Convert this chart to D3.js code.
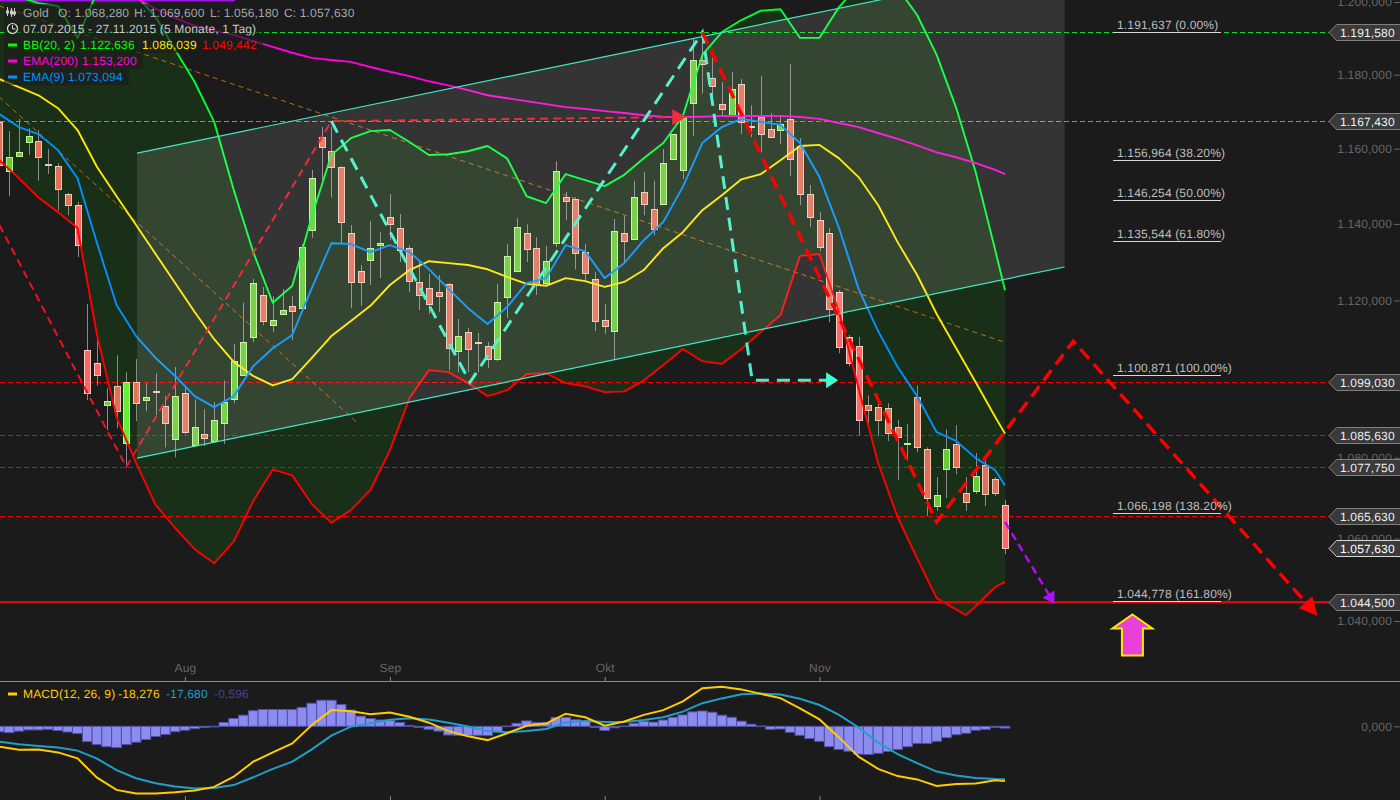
<!DOCTYPE html>
<html><head><meta charset="utf-8">
<style>
html,body{margin:0;padding:0;background:#1b1b1b;overflow:hidden}
svg{display:block}
text{font-family:"Liberation Sans",Arial,sans-serif;font-size:12px;letter-spacing:.15px;text-rendering:geometricPrecision}
</style>
<script src="https://cdn.jsdelivr.net/npm/d3@7/dist/d3.min.js"></script>
</head><body><div id="c"></div>
<script>
// ---------- candles (day index 0 = 07.07.2015, 103 = 27.11.2015), prices in USD
const opens=[1167.2,1154.0,1158.0,1161.8,1162.0,1155.9,1155.3,1147.9,1145.0,1107.2,1103.9,1093.2,1098.0,1083.6,1099.0,1094.5,1096.9,1093.0,1084.7,1096.2,1083.1,1085.9,1084.2,1088.7,1094.7,1100.8,1110.6,1121.4,1113.6,1116.5,1118.6,1118.0,1138.4,1163.1,1159.3,1155.1,1137.6,1127.6,1130.5,1134.4,1141.8,1138.9,1133.6,1124.8,1123.2,1122.2,1124.3,1107.0,1111.9,1109.2,1108.2,1104.9,1120.9,1127.6,1137.6,1133.6,1124.5,1134.9,1147.0,1146.5,1132.6,1125.5,1114.9,1112.1,1137.6,1136.0,1148.5,1143.9,1145.3,1157.2,1154.3,1172.3,1184.0,1179.1,1172.0,1169.0,1177.4,1166.2,1168.5,1165.3,1165.0,1168.0,1160.7,1148.0,1141.0,1137.6,1122.2,1110.6,1108.2,1093.2,1092.7,1092.5,1087.7,1083.5,1095.2,1082.1,1068.0,1077.2,1083.4,1071.2,1071.7,1078.2,1074.7,1068.28];
const highs=[1169.0,1164.7,1168.0,1165.5,1165.0,1159.9,1156.1,1148.2,1145.8,1119.1,1109.8,1097.5,1105.9,1101.6,1104.9,1098.8,1101.3,1095.5,1102.9,1098.2,1094.7,1092.2,1094.0,1099.5,1108.8,1119.4,1125.6,1123.5,1121.1,1123.0,1121.1,1134.7,1154.3,1165.8,1165.8,1155.3,1139.7,1129.2,1140.7,1137.8,1147.9,1142.6,1134.4,1130.5,1126.9,1126.6,1124.5,1115.2,1112.9,1111.6,1109.3,1124.3,1134.7,1141.5,1139.9,1136.5,1134.2,1156.6,1148.5,1147.0,1134.7,1127.4,1119.1,1141.3,1142.1,1151.4,1153.7,1151.4,1159.9,1163.9,1169.0,1190.1,1192.3,1184.6,1178.0,1180.8,1178.8,1171.7,1179.6,1169.6,1168.5,1182.9,1162.8,1150.3,1143.1,1138.9,1122.7,1111.1,1110.6,1095.7,1094.5,1093.7,1089.5,1088.5,1098.2,1082.6,1075.2,1087.1,1088.2,1075.2,1081.2,1079.4,1075.2,1069.6];
const lows=[1148.5,1147.3,1157.7,1158.3,1151.4,1153.2,1143.6,1142.3,1131.3,1094.5,1098.2,1086.9,1087.4,1077.7,1089.2,1091.7,1090.7,1082.6,1080.1,1085.9,1082.9,1082.9,1083.9,1083.4,1093.7,1100.6,1109.3,1113.6,1111.9,1116.2,1109.8,1117.0,1136.3,1151.6,1147.0,1134.9,1118.0,1118.6,1124.0,1125.8,1135.7,1130.0,1122.2,1117.5,1116.5,1117.0,1102.1,1101.6,1101.6,1101.6,1102.6,1104.4,1115.4,1127.4,1130.0,1121.4,1124.0,1133.9,1141.0,1128.1,1124.8,1112.1,1111.4,1104.7,1130.0,1135.7,1142.3,1137.0,1145.0,1156.9,1151.9,1163.4,1174.9,1173.1,1169.0,1168.8,1163.9,1163.1,1159.0,1162.8,1161.2,1152.7,1145.0,1139.2,1132.8,1114.4,1106.4,1103.1,1085.6,1088.7,1085.4,1084.2,1074.4,1079.4,1081.4,1065.5,1066.8,1070.0,1075.9,1066.8,1071.0,1068.0,1070.5,1056.18];
const closes=[1155.6,1157.7,1159.0,1163.4,1157.7,1155.8,1149.3,1145.0,1134.4,1096.2,1100.8,1094.2,1091.7,1099.0,1093.7,1095.2,1096.6,1088.7,1095.5,1086.4,1087.7,1084.9,1089.5,1094.0,1104.4,1109.3,1124.5,1114.6,1114.9,1117.5,1117.2,1133.9,1152.1,1160.4,1155.1,1140.5,1124.8,1124.8,1133.6,1134.9,1140.0,1133.1,1125.0,1121.4,1119.1,1121.1,1107.7,1110.8,1107.5,1108.9,1104.9,1119.6,1131.6,1139.2,1133.4,1124.3,1130.2,1154.0,1146.0,1132.3,1127.1,1114.6,1113.4,1138.1,1135.4,1147.0,1145.3,1138.6,1156.1,1163.9,1168.2,1184.0,1182.9,1176.9,1170.7,1176.1,1167.2,1165.9,1163.9,1163.1,1166.6,1157.2,1148.0,1141.8,1133.9,1117.7,1108.0,1103.9,1089.5,1092.0,1089.5,1086.1,1085.2,1083.8,1082.6,1070.0,1070.7,1082.1,1077.7,1069.0,1075.4,1071.0,1071.2,1057.63];
const bandTouchDays=[8,9,10,13,86,87,88,103];

// ---------- indicator lines, read every second day plus the last day
const bbUpper=[1203.9,1201.4,1199.7,1198.9,1190.1,1202.8,1206.1,1201.9,1195.9,1186.8,1178.0,1167.2,1149.0,1132.6,1119.4,1123.8,1142.0,1158.3,1162.8,1164.7,1165.0,1161.8,1158.3,1158.5,1159.3,1160.7,1157.4,1147.3,1145.5,1153.2,1151.6,1150.0,1153.0,1157.4,1161.5,1168.8,1185.4,1191.7,1195.0,1197.6,1198.0,1190.1,1190.1,1198.6,1204.7,1207.5,1203.9,1196.4,1185.4,1171.0,1153.7,1133.1,1122.636];
const bbMiddle=[1178.8,1176.6,1174.4,1170.9,1165.0,1155.1,1147.3,1139.7,1132.1,1124.5,1117.0,1110.0,1104.2,1100.6,1098.2,1099.8,1105.2,1110.8,1114.7,1118.6,1124.0,1127.9,1130.2,1129.7,1129.2,1128.1,1126.1,1124.3,1123.8,1125.8,1125.0,1123.5,1124.8,1127.9,1133.6,1137.8,1143.6,1147.6,1151.8,1153.2,1156.9,1160.7,1161.0,1157.4,1152.4,1145.0,1135.2,1126.6,1116.5,1107.7,1099.0,1090.2,1086.039];
const bbLower=[1156.9,1152.1,1147.0,1143.1,1138.9,1111.1,1090.2,1078.7,1068.3,1062.6,1057.4,1054.0,1059.3,1069.3,1077.1,1075.6,1068.5,1063.9,1067.0,1072.0,1081.9,1095.0,1102.1,1101.6,1098.8,1095.5,1097.0,1101.1,1101.3,1098.8,1098.0,1096.5,1096.7,1099.5,1103.4,1107.5,1104.4,1103.7,1107.5,1111.9,1116.2,1131.6,1132.1,1117.0,1097.5,1078.7,1065.3,1055.2,1045.5,1041.4,1043.6,1048.2,1049.442];
const ema200=[1214.4,1212.2,1210.3,1208.3,1206.7,1204.7,1203.1,1201.1,1198.1,1195.6,1193.4,1192.0,1190.9,1189.2,1187.6,1186.0,1184.6,1184.0,1183.5,1182.1,1180.8,1179.6,1178.2,1177.1,1175.8,1174.4,1173.6,1172.8,1172.0,1171.2,1170.7,1170.1,1169.6,1169.0,1168.6,1168.5,1168.6,1168.8,1168.8,1168.8,1168.8,1168.5,1168.0,1166.9,1165.8,1164.2,1162.6,1160.9,1159.0,1157.7,1156.1,1154.3,1153.2];
const ema9=[1169.3,1165.8,1163.9,1159.6,1152.1,1134.9,1118.8,1110.8,1105.2,1100.6,1095.5,1092.7,1095.5,1103.1,1107.7,1111.1,1123.2,1134.9,1134.7,1132.6,1134.4,1132.6,1128.1,1123.0,1118.0,1113.9,1118.3,1124.5,1125.8,1134.4,1132.8,1125.8,1129.7,1135.7,1140.5,1149.8,1161.5,1165.8,1168.0,1167.2,1166.4,1161.5,1152.4,1138.9,1123.0,1112.1,1102.9,1095.5,1086.4,1084.2,1079.9,1076.9,1073.094];
const macdLine=[-6.8,-7.8,-7.7,-8.7,-10.7,-17.1,-21.2,-22.4,-22.4,-22,-21.4,-20.2,-16.8,-11.8,-8.7,-5.7,0.4,5.4,5,4,4.6,3.2,1.2,-1.6,-3.3,-4.6,-2.3,0.2,0.9,4.2,3,0.2,1.6,3.8,5.4,8.3,12.7,13.2,12.3,10.8,9.4,6,2.3,-3.7,-10.1,-14.2,-16.6,-17.7,-19.9,-19.2,-19.1,-18,-18.276];
const macdSignal=[-5.1,-6,-6.6,-7.1,-8.1,-10.8,-14.6,-17.3,-19,-20.1,-20.7,-20.6,-19.6,-17,-14.2,-11.8,-7.7,-3.1,-0.1,1,2.2,2.7,2.3,1.2,-0.1,-1.6,-2,-1.6,-0.9,1.3,1.8,1.4,1.4,2.1,3,4.9,7.7,9.3,10.7,10.9,10.6,9.2,7.1,3.8,-0.4,-5.4,-9.3,-12.3,-15.1,-16.4,-17.2,-17.6,-17.68];
const macdHist=[-1.8,-2.1,-1.6,-1.2,-1.2,-1,-1.4,-1.9,-2.4,-5.1,-6.1,-6.8,-7.1,-6.1,-5.3,-4.4,-3.4,-2.7,-1.8,-1.3,-0.8,-0.4,-0.2,1.3,2.6,3.7,5.2,5.6,5.6,5.6,5.6,6.3,7.7,8.7,8.7,7.3,5.4,3.4,2.6,2.1,1.9,1.3,0.3,-0.4,-1,-1.6,-2.9,-3,-3,-3,-3.1,-1.8,0.1,1,1.8,1.3,1.3,3,3,2.2,1.7,-0.4,-1.4,-0.5,0.1,1,1.7,1.4,2.1,3,3.8,4.8,5.1,4.7,3.7,3,1.7,0.7,0.1,-1,-0.9,-2,-3,-4.1,-5,-6.8,-7.7,-8.3,-9.3,-9.4,-9,-8.4,-7.7,-6.8,-5.7,-5.7,-5,-3.8,-2.8,-2.3,-1.3,-1,-0.4,-0.596];

// ---------- price levels, axes, fibonacci
const yTicks=[1040,1060,1080,1100,1120,1140,1160,1180,1200];
const monthDays=[19,40,62,84];
const monthLabels=["Aug","Sep","Okt","Nov"];
const greenLevels=[1191.58,1167.43];
const redLevels=[1099.03,1085.63,1077.75,1065.63];
const supportLevel=1044.5;
const tagPrices=[1191.58,1167.43,1099.03,1085.63,1077.75,1065.63,1044.5];
const lastPrice=1057.63;
const fibPrices=[1191.637,1156.964,1146.254,1135.544,1100.871,1066.198,1044.778];
const fibPct=["0.00%","38.20%","50.00%","61.80%","100.00%","138.20%","161.80%"];

// ---------- hand-drawn objects as [day, price]
const channelTop=[[14.1,1158.8],[109.1,1211.2]];
const channelBottom=[[14.1,1079.9],[109.1,1128.7]];
const fanOrange1=[[0,1173.9],[36.7,1088.7]];
const fanOrange2=[[0,1198.9],[103,1109.2]];
const thinRedPath=[[0,1139.7],[13,1077.7],[34,1167.4],[70,1168.5]];
const tealPath=[[34,1167.4],[48.2,1099],[72,1191.6],[77.1,1099.5],[85.6,1099.5]];
const redPath=[[72,1191.6],[96,1064.1],[110,1109.5],[134.7,1042.1]];
const purplePath=[[103,1064.1],[107.9,1044.8]];
const signalArrow=[116,1040];

// ---------- scales
const W=1400,H=800;
const x=d3.scaleLinear().domain([0,103]).range([-0.6,1005]);
const y=d3.scaleLog().domain([1040,1200]).range([621,2]);
const ym=d3.scaleLinear().domain([-18,18]).range([780.3,672.3]);
const de=d3.formatLocale({decimal:",",thousands:".",grouping:[3],currency:["","€"]});
const fPrice=de.format(",.3f");

const svg=d3.select("#c").append("svg").attr("width",W).attr("height",H);
svg.append("rect").attr("width",W).attr("height",H).attr("fill","#1b1b1b");
const defs=svg.append("defs");
defs.append("clipPath").attr("id","main").append("rect").attr("width",W).attr("height",681);
const g=svg.append("g").attr("clip-path","url(#main)");

const lineDays=[...d3.range(0,103,2),103];
// the lower band is read at its own low on day 99 instead of day 98
const lowerDays=lineDays.map(d=>d===98?99:d);
const priceLine=(vals,days=lineDays)=>d3.line().x((d,i)=>x(days[i])).y(d=>y(d))(vals);
const macdPath=vals=>d3.line().x((d,i)=>x(lineDays[i])).y(d=>ym(d))(vals);
const pts=d3.line().x(d=>x(d[0])).y(d=>y(d[1]));

// Bollinger fill: upper edge forward, lower edge back
const fillPts=[...bbUpper.map((v,i)=>[lineDays[i],v]),...bbLower.map((v,i)=>[lowerDays[i],v]).reverse()];
g.append("path").attr("fill","#1a2f18").attr("d",pts(fillPts)+"Z");

// purple strip at very top
g.append("line").attr("x1",0).attr("x2",235).attr("y1",0.5).attr("y2",0.5).attr("stroke","#a010e8").attr("stroke-width",2);

// horizontal levels
greenLevels.forEach(p=>g.append("line").attr("x1",0).attr("x2",1330).attr("y1",Math.round(y(p))+.5).attr("y2",Math.round(y(p))+.5)
  .attr("stroke","#00e020").attr("stroke-dasharray","5 3"));
redLevels.forEach(p=>g.append("line").attr("x1",0).attr("x2",1330).attr("y1",Math.round(y(p))+.5).attr("y2",Math.round(y(p))+.5)
  .attr("stroke","#f00000").attr("stroke-dasharray","5 3"));

// orange fan lines
[fanOrange1,fanOrange2].forEach(l=>g.append("path").attr("d",pts(l)).attr("fill","none").attr("stroke","#c06a10").attr("stroke-dasharray","5 4"));

// candles
const cg=g.append("g");
opens.forEach((o,i)=>{
  const c=closes[i],up=c>o,hot=bandTouchDays.includes(i);
  const cx=Math.round(x(i));
  cg.append("line").attr("x1",cx+.5).attr("x2",cx+.5).attr("y1",y(highs[i])).attr("y2",y(lows[i])).attr("stroke","#8a8a8a");
  const t=y(Math.max(o,c)),b=y(Math.min(o,c));
  cg.append("rect").attr("x",cx-2.5).attr("width",6).attr("y",Math.round(t)+.5).attr("height",Math.max(1,Math.round(b-t)))
    .attr("fill",up?(hot?"#66ee33":"#66cc33"):(hot?"#ff6666":"#e07058"))
    .attr("stroke",up?"#c8f0a0":(hot?"#ffc8c0":"#f0c8b8"));
});

// indicator lines
const series=[[bbUpper,"#00ff33",lineDays],[bbLower,"#ff0000",lowerDays],[bbMiddle,"#ffe600",lineDays],[ema200,"#ff00dd",lineDays],[ema9,"#0090ff",lineDays]];
series.forEach(([v,col,days])=>g.append("path").attr("d",priceLine(v,days)).attr("fill","none").attr("stroke",col).attr("stroke-width",1.9).attr("stroke-linejoin","round"));

// arrow head helper
function head(path,col,len,half,parent){
  const n=path.length,ax=x(path[n-2][0]),ay=y(path[n-2][1]),bx=x(path[n-1][0]),by=y(path[n-1][1]);
  const a=Math.atan2(by-ay,bx-ax),c=Math.cos(a),s=Math.sin(a);
  parent.append("polygon").attr("fill",col).attr("points",[
    [bx+c*len*.25,by+s*len*.25],
    [bx-c*len*.75-s*half,by-s*len*.75+c*half],
    [bx-c*len*.75+s*half,by-s*len*.75-c*half]].join(" "));
}
// thin red + teal zigzags (under channel overlay)
g.append("path").attr("d",pts(thinRedPath)).attr("fill","none").attr("stroke","#f01020").attr("stroke-width",2).attr("stroke-dasharray","8 5");
head(thinRedPath,"#f01020",14,8,g);
g.append("path").attr("d",pts(tealPath)).attr("fill","none").attr("stroke","#40f0c8").attr("stroke-width",3).attr("stroke-dasharray","13 8");
head(tealPath,"#40ffd0",12,8,g);

// channel overlay
const poly=[channelTop[0],channelTop[1],channelBottom[1],channelBottom[0]];
g.append("polygon").attr("points",poly.map(d=>[x(d[0]),y(d[1])].join(",")).join(" ")).attr("fill","#fff").attr("fill-opacity",.115);
[channelTop,channelBottom].forEach(l=>g.append("path").attr("d",pts(l)).attr("fill","none").attr("stroke","#40e8c8").attr("stroke-width",1.2));

// support line
g.append("line").attr("x1",0).attr("x2",1330).attr("y1",y(supportLevel)).attr("y2",y(supportLevel)).attr("stroke","#d80808").attr("stroke-width",2.4);

// thick red projection + purple
g.append("path").attr("d",pts(redPath)).attr("fill","none").attr("stroke","#ff0000").attr("stroke-width",3.4).attr("stroke-dasharray","13 7");
head(redPath,"#ff0000",18,9,g);
g.append("path").attr("d",pts(purplePath)).attr("fill","none").attr("stroke","#a810f0").attr("stroke-width",2.5).attr("stroke-dasharray","8 5");
head(purplePath,"#b010ff",11,7,g);

// signal arrow
{
 const sx=x(signalArrow[0])+0.5,sy=y(signalArrow[1]);
 const tip=sy-6.5;
 g.append("polygon").attr("fill","#e840d8").attr("stroke","#ffe800").attr("stroke-width",2)
  .attr("points",[[sx,tip],[sx+20,tip+14],[sx+10.5,tip+14],[sx+10.5,tip+41],[sx-10.5,tip+41],[sx-10.5,tip+14],[sx-20,tip+14]].join(" "));
}

// fibonacci labels
fibPrices.forEach((p,i)=>{
  const yy=Math.round(y(p))+.5;
  svg.append("line").attr("x1",1113).attr("x2",1221).attr("y1",yy).attr("y2",yy).attr("stroke","#d8d8d8");
  svg.append("text").attr("x",1117).attr("y",yy-3.5).attr("fill","#bdbdbd").text(`${fPrice(p)} (${fibPct[i]})`);
});

// y axis
const yAxis=d3.axisLeft(y).tickValues(yTicks).tickSize(6).tickPadding(2).tickFormat(fPrice);
const ya=svg.append("g").attr("transform","translate(1400,0)").call(yAxis);
ya.select(".domain").remove();
ya.selectAll("line").attr("stroke","#666");
ya.selectAll("text").attr("fill","#666").style("font-size","12px").style("font-family",'"Liberation Sans",Arial,sans-serif');

// price tags
function tag(p,border,txtCol){
  const c=Math.round(y(p));
  const t=svg.append("g");
  t.append("path").attr("d",`M1329,${c+.5}L1336.5,${c-7.5}H1401V${c+8.5}H1336.5Z`).attr("fill","#3a3a3a").attr("stroke",border);
  t.append("text").attr("x",1340).attr("y",c+5).attr("fill",txtCol).text(fPrice(p));
}
tagPrices.forEach(p=>tag(p,"#808080","#f0f0f0"));
tag(lastPrice,"#d8d8d8","#ffffff");

// x axis + separators
const xa=svg.append("g").attr("transform","translate(0,681)")
  .call(d3.axisTop(x).tickValues(monthDays).tickSize(4).tickPadding(5).tickFormat((d,i)=>monthLabels[i]));
xa.select(".domain").remove();
xa.selectAll("line").attr("stroke","#888");
xa.selectAll("text").attr("fill","#666").style("font-size","12px").style("font-family",'"Liberation Sans",Arial,sans-serif');
svg.append("line").attr("x1",0).attr("x2",W).attr("y1",681.5).attr("y2",681.5).attr("stroke","#8c8c8c");
const xb=svg.append("g").attr("transform","translate(0,800)")
  .call(d3.axisTop(x).tickValues(monthDays).tickSize(4).tickFormat(""));
xb.select(".domain").remove();xb.selectAll("line").attr("stroke","#888");

// MACD histogram
const mg=svg.append("g");
macdHist.forEach((v,i)=>{
  const t=ym(Math.max(v,0)),b=ym(Math.min(v,0));
  mg.append("rect").attr("x",x(i)-4.9).attr("width",9.77).attr("y",t).attr("height",Math.max(.6,b-t))
    .attr("fill","#8c8cf0").attr("stroke","#5050a8").attr("stroke-width",1);
});
mg.append("path").attr("d",macdPath(macdSignal)).attr("fill","none").attr("stroke","#20a0c8").attr("stroke-width",2);
mg.append("path").attr("d",macdPath(macdLine)).attr("fill","none").attr("stroke","#ffcc00").attr("stroke-width",2);
const mAxis=svg.append("g").attr("transform","translate(1400,0)").call(d3.axisLeft(ym).tickValues([0]).tickSize(6).tickPadding(2).tickFormat(de.format(",.3f")));
mAxis.select(".domain").remove();
mAxis.selectAll("line").attr("stroke","#666");
mAxis.selectAll("text").attr("fill","#666").style("font-size","12px").style("font-family",'"Liberation Sans",Arial,sans-serif');

// legends
const legendG=svg.append("g");
function bgBox(x0,y0,x1,y1){legendG.append("rect").attr("x",x0).attr("y",y0).attr("width",x1-x0).attr("height",y1-y0).attr("fill","#1b1b1b").attr("fill-opacity",.62);}
bgBox(4,4,358,21);bgBox(4,21,260,37);bgBox(4,37,263,53);bgBox(4,53,143,69);bgBox(4,69,129,85);bgBox(4,686,255,702);
function t(xx,yy,s,col){legendG.append("text").attr("x",xx).attr("y",yy).attr("fill",col).text(s);}
function dash(yy,col){legendG.append("rect").attr("x",8).attr("y",yy-1.5).attr("width",9).attr("height",3).attr("fill",col);}
const gray="#a8a8a8";
t(23,17,"Gold",gray);t(58,17,"O: 1.068,280",gray);t(134,17,"H: 1.069,600",gray);t(210,17,"L: 1.056,180",gray);t(284,17,"C: 1.057,630",gray);
[[8,7,15,11,13],[12,8,16,11,14],[15,8,15,12,14]].forEach(([cx,a,b,c,d])=>{
  legendG.append("line").attr("x1",cx-1.5+1).attr("x2",cx-1.5+1).attr("y1",a).attr("y2",b+1).attr("stroke","#ccc");
  legendG.append("rect").attr("x",cx-1.5).attr("y",c).attr("width",2).attr("height",d-c).attr("fill","none").attr("stroke","#ccc");
});
legendG.append("circle").attr("cx",12.5).attr("cy",28.5).attr("r",5).attr("fill","none").attr("stroke","#ddd").attr("stroke-width",1.2);
legendG.append("path").attr("d","M12.5,25V29H15.5").attr("fill","none").attr("stroke","#ddd");
t(23,33,"07.07.2015 - 27.11.2015 (5 Monate, 1 Tag)","#c8c8c8");
dash(45,"#00ff00");t(23,49,"BB(20, 2)","#00ff00");t(80,49,"1.122,636","#00ff00");t(142,49,"1.086,039","#ffe600");t(202,49,"1.049,442","#ff0000");
dash(61,"#ff00dd");t(23,65,"EMA(200)","#ff00dd");t(82,65,"1.153,200","#ff00dd");
dash(77,"#0090ff");t(23,81,"EMA(9)","#0090ff");t(68,81,"1.073,094","#0090ff");
legendG.append("rect").attr("x",8).attr("y",692.5).attr("width",9).attr("height",3).attr("fill","#ffcc00");
t(23,698,"MACD(12, 26, 9)","#ffcc00");t(118,698,"-18,276","#ffcc00");t(166,698,"-17,680","#20a0c8");t(214,698,"-0,596","#444498");
</script></body></html>
